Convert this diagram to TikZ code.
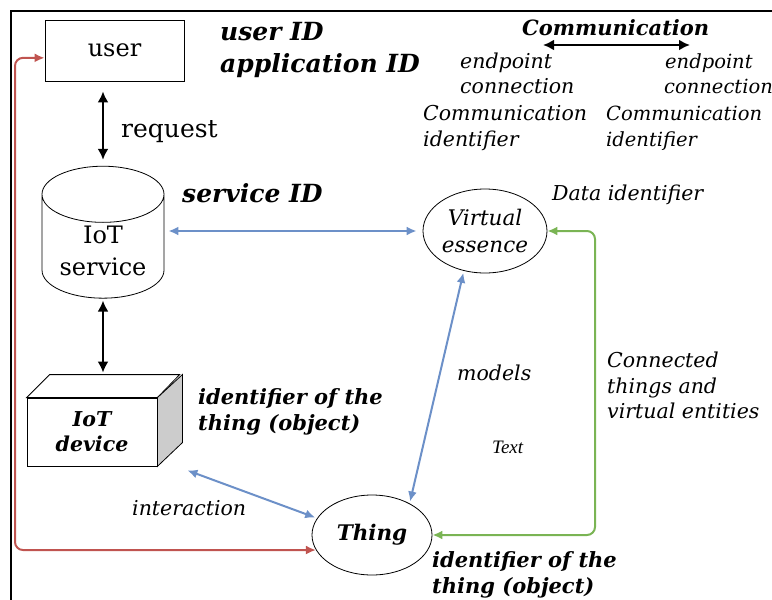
\documentclass[tikz,border=0pt]{standalone}
\usepackage{fontspec}
\setmainfont{DejaVu Serif}
\newfontfamily\smallserif{Liberation Serif}
\usetikzlibrary{shapes.geometric,arrows.meta}

\definecolor{linkblue}{RGB}{108,144,200}
\definecolor{linkred}{RGB}{192,84,80}
\definecolor{linkgreen}{RGB}{122,180,84}

\begin{document}
\begin{tikzpicture}[x=1pt, y=-1pt,
    idtext/.style={anchor=base west, inner sep=0pt, font=\fontsize{21}{21}\selectfont\bfseries\itshape},
    bigid/.style={idtext, font=\fontsize{25}{25}\selectfont\bfseries\itshape},
    note/.style={anchor=base west, inner sep=0pt, font=\fontsize{20.5}{20.5}\selectfont\itshape},
    edgenote/.style={note, font=\fontsize{19.5}{19.5}\selectfont\itshape},
    plain/.style={anchor=base west, inner sep=0pt, font=\fontsize{25}{25}\selectfont},
    blackarrow/.style={{Latex[length=11pt,width=11pt]}-{Latex[length=11pt,width=11pt]}, line width=2.8pt},
    bluearrow/.style={{Latex[length=10pt,width=9pt]}-{Latex[length=10pt,width=9pt]}, line width=2pt, linkblue},
    ring/.style={ellipse, draw, thick, inner sep=0pt, align=center}]

    \useasboundingbox (0,0) rectangle (772,600);
    \draw[line width=1.2pt] (11,600) -- (11,11) -- (772,11);

    % nodes
    \node [draw, thick, minimum width=139, minimum height=61, font=\fontsize{24}{24}\selectfont] (user) at (114.5,50.5) {user};
    \node [cylinder, shape border rotate=90, draw, thick, aspect=0.6, minimum width=122, minimum height=123,
           align=center, font=\fontsize{24}{32}\selectfont] (svc) at (103,251) {IoT\\service};
    \node [ring, minimum width=124, minimum height=84, font=\fontsize{21.5}{27}\selectfont\itshape] (virt) at (485,231) {Virtual\\essence};
    \node [ring, minimum width=120, minimum height=80, font=\fontsize{21.5}{21.5}\selectfont\bfseries\itshape] (thing) at (372,535) {Thing};
    \node [draw, thick, fill=white, minimum width=130, minimum height=68, align=center,
           font=\fontsize{20.5}{25}\selectfont\bfseries\itshape] (dev) at (92,432) {IoT\\device};

    % box faces of the device
    \coordinate (devtop) at ([shift={(0,-23)}]dev.north);
    \draw[thick, fill=white] (dev.north west) -- ++(23,-23) -- ++(130,0) -- (dev.north east) -- cycle;
    \draw[thick, fill=black!20] (dev.north east) -- ++(25,-23) -- ++(0,68) -- (dev.south east) -- cycle;

    % labels
    \node [bigid] (uid) at (220,40) {user ID};
    \node [bigid] (appid) at (220,72) {application ID};
    \node [plain] (req) at (121,137) {request};
    \node [bigid] (sid) at (182,202) {service ID};
    \node [note] (did) at (552,200) {Data identifier};
    \node [idtext] (comm) at (522,35) {Communication};
    \node [note] (ep1) at (460,68) {endpoint};
    \node [note] (cn1) at (460,93) {connection};
    \node [note] (ci1) at (423,120) {Communication};
    \node [note] (id1) at (423,146) {identifier};
    \node [edgenote] (ep2) at (665,68) {endpoint};
    \node [edgenote] (cn2) at (664,93) {connection};
    \node [edgenote] (ci2) at (606,120) {Communication};
    \node [edgenote] (id2) at (606,146) {identifier};
    \node [idtext] (tid1) at (198,404) {identifier of the};
    \node [idtext] (tob1) at (198,430) {thing (object)};
    \node [note] (inter) at (132,515) {interaction};
    \node [note] (mod) at (457,380) {models};
    \node [note, font=\fontsize{19}{19}\selectfont\smallserif\itshape] (txt) at (492,453) {Text};
    \node [note] (con1) at (607,367) {Connected};
    \node [note] (con2) at (607,393) {things and};
    \node [note] (con3) at (607,418) {virtual entities};
    \node [idtext] (tid2) at (432,567) {identifier of the};
    \node [idtext] (tob2) at (432,593) {thing (object)};

    % connectors
    \coordinate (commL) at (543,45);
    \coordinate (commR) at (690,45);
    \draw[blackarrow] (commL) -- (commR);
    \draw[blackarrow, shorten <=10pt, shorten >=6pt] (svc.north |- user.south) -- (svc.north);
    \draw[blackarrow, shorten <=2pt, shorten >=2pt] (svc.south) -- (svc.south |- devtop);
    \draw[bluearrow, shorten <=4pt, shorten >=6pt] (virt.west -| svc.east) -- (virt.west);
    \draw[bluearrow, shorten <=2pt, shorten >=2pt] (virt.242) -- (thing.40);
    \draw[bluearrow, shorten >=2pt] ([shift={(30,4)}]dev.south east) -- (thing.163);

    \coordinate (redturn) at (15,0);
    \draw[{Latex[length=10pt,width=9pt]}-{Latex[length=10pt,width=9pt]}, line width=2pt, linkred, rounded corners=8pt]
        (user.186) -- (user.186 -| redturn) -- (thing.195 -| redturn) -- (thing.195);

    \coordinate (greenturn) at (595,0);
    \draw[{Latex[length=10pt,width=9pt]}-{Latex[length=10pt,width=9pt]}, line width=2pt, linkgreen, rounded corners=8pt]
        (virt.east) -- (virt.east -| greenturn) -- (thing.east -| greenturn) -- (thing.east);

\end{tikzpicture}
\end{document}
